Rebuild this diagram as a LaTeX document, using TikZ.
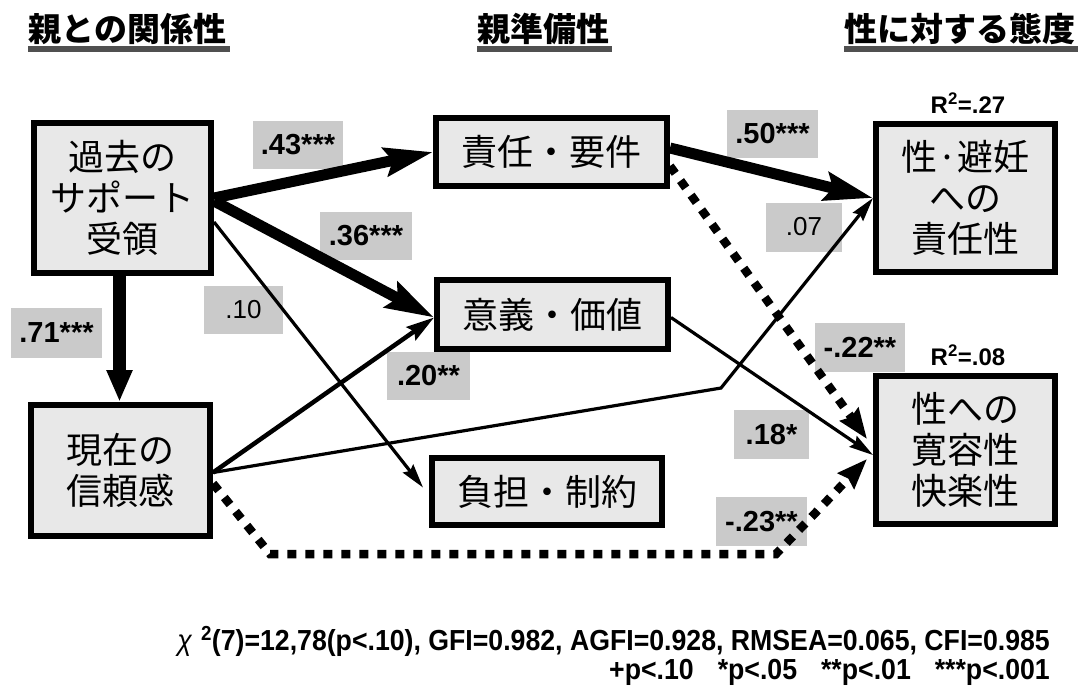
\documentclass[tikz,border=0pt]{standalone}
\usepackage{fontspec}
\setmainfont{Liberation Sans}
\newfontfamily\jp{Noto Sans CJK JP}
\newfontfamily\narrowf{Liberation Sans}[FakeStretch=0.92]
\usetikzlibrary{arrows.meta}
\definecolor{boxfill}{RGB}{232,232,232}
\definecolor{lblfill}{RGB}{202,202,202}
\definecolor{ulcol}{RGB}{80,80,80}
\begin{document}
\begin{tikzpicture}[x=1pt,y=-1pt,
  box/.style={draw=black, line width=6pt, fill=boxfill, inner sep=0pt, align=center,
    font=\jp\fontsize{36pt}{41pt}\selectfont},
  lbl/.style={fill=lblfill, inner sep=0pt, font=\bfseries\fontsize{29pt}{29pt}\selectfont},
  lbln/.style={fill=lblfill, inner sep=0pt, font=\fontsize{26pt}{26pt}\selectfont},
  hdr/.style={inner sep=0pt, font=\jp\bfseries\fontsize{33pt}{33pt}\selectfont},
  rsq/.style={inner sep=0pt, font=\bfseries\fontsize{24pt}{24pt}\selectfont},
  fitstat/.style={anchor=base east, inner sep=0pt, font=\narrowf\bfseries\fontsize{29pt}{29pt}\selectfont},
  thickarrow/.style={line width=11pt, -{Stealth[length=48pt,width=28pt,inset=7pt]}},
  vertarrow/.style={line width=13pt, -{Triangle[length=32pt,width=24pt]}},
  medarrow/.style={line width=4.5pt, -{Stealth[length=28pt,width=16pt,inset=4pt]}},
  thinarrow/.style={line width=3.2pt, -{Stealth[length=24pt,width=13pt,inset=3pt]}},
  dotarrow/.style={line width=8.5pt, dash pattern=on 9pt off 9pt, -{Stealth[length=30pt,width=22pt,inset=3pt]}},
]
\useasboundingbox (0,0) rectangle (1078,686);

% headers
\node[hdr] (h1) at (127.5,29) {親との関係性};
\node[hdr] (h2) at (543,29) {親準備性};
\node[hdr] (h3) at (960,29) {性に対する態度};
\foreach \h in {h1,h2,h3}{
  \fill[ulcol] ([yshift=-1pt]\h.south west) rectangle ([yshift=-7pt,xshift=3pt]\h.south east);
}

% labels
\node[lbl, minimum width=90pt, minimum height=48pt] (l43) at (298,145) {.43***};
\node[lbl, minimum width=92pt, minimum height=48pt] (l36) at (366,236) {.36***};
\node[lbln, minimum width=79pt, minimum height=48pt] (l10) at (243.5,310) {.10};
\node[lbl, minimum width=91pt, minimum height=50pt] (l71) at (56.5,333) {.71***};
\node[lbl, minimum width=83pt, minimum height=48pt] (l20) at (428.5,376) {.20**};
\node[lbl, minimum width=91pt, minimum height=48pt] (l50) at (772.5,134) {.50***};
\node[lbln, minimum width=76pt, minimum height=49pt] (l07) at (804,227) {.07};
\node[lbl, minimum width=90pt, minimum height=49pt] (l22) at (860,347) {-.22**};
\node[lbl, minimum width=75pt, minimum height=49pt] (l18) at (771.5,434.5) {.18*};
\node[lbl, minimum width=91pt, minimum height=49pt] (l23) at (761.5,521.5) {-.23**};

% boxes
\node[box, minimum width=177pt, minimum height=150pt] (A) at (122.5,198) {過去の\\サポート\\受領};
\node[box, minimum width=179pt, minimum height=131pt] (B) at (120.5,470.5) {現在の\\信頼感};
\node[box, minimum width=231pt, minimum height=68pt] (R1) at (551.5,152) {責任・要件};
\node[box, minimum width=231pt, minimum height=69pt] (R2) at (552.5,314.5) {意義・価値};
\node[box, minimum width=230pt, minimum height=67pt] (R3) at (547,491.5) {負担・制約};
\node[box, minimum width=179pt, minimum height=148pt] (P1) at (965.5,198) {性·避妊\\への\\責任性};
\node[box, minimum width=179pt, minimum height=148pt] (P2) at (965.5,450) {性への\\寛容性\\快楽性};

% R squared
\node[rsq] (r1) at (968,103) {R\textsuperscript{2}=.27};
\node[rsq] (r2) at (968,355) {R\textsuperscript{2}=.08};

% bend points
\coordinate (bend07) at (721,388);
\coordinate (d1) at (270,554);
\coordinate (d2) at (776,554);

% arrows
\draw[thickarrow] (A.east) -- (R1.west);
\draw[thickarrow] ([yshift=-3pt]A.east) -- ([yshift=-3pt]R2.west);
\draw[thinarrow] ([yshift=-24pt]A.east) -- ([xshift=-6pt,yshift=4pt]R3.west);
\draw[vertarrow] ([xshift=-3pt]A.south) -- ([xshift=-3pt]A.south |- B.north);
\draw[medarrow] ([yshift=-2pt]B.east) -- ([yshift=-3pt]R2.west);
\draw[thinarrow] ([yshift=-2pt]B.east) -- (bend07) -- (P1.west);
\draw[thickarrow] ([yshift=4pt]R1.east) -- (P1.west);
\draw[dotarrow] ([yshift=-14pt]R1.east) -- ([xshift=-6pt,yshift=11pt]P2.west);
\draw[thinarrow] ([yshift=-3pt]R2.east) -- ([yshift=-5pt]P2.west);
\draw[dotarrow] ([yshift=-13pt]B.east) -- (d1) -- (d2) -- ([xshift=-6pt,yshift=-9pt]P2.west);

% fit statistics
\node[fitstat] (fit) at (1050,650)
  {{\mdseries\itshape χ}\hspace{9pt}\textsuperscript{2}(7)=12,78(p<.10), GFI=0.982, AGFI=0.928, RMSEA=0.065, CFI=0.985};
\node[fitstat] (sig) at (1050,679)
  {+p<.10\hspace{24pt}*p<.05\hspace{24pt}**p<.01\hspace{24pt}***p<.001};
\end{tikzpicture}
\end{document}
